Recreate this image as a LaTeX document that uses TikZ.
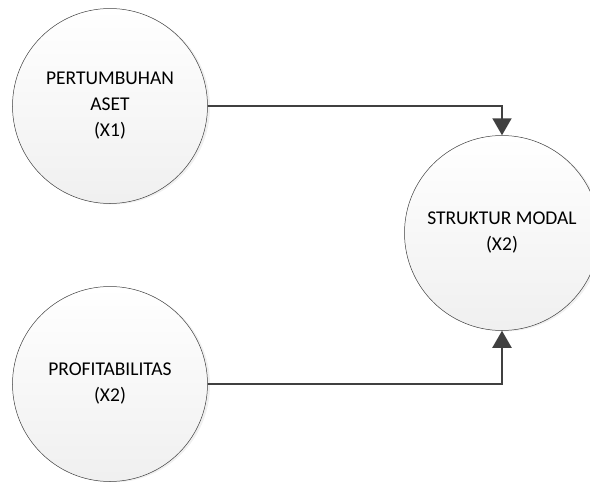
\documentclass[tikz,border=0pt]{standalone}
\usepackage{fontspec}
\setmainfont{Carlito}
\usetikzlibrary{arrows.meta,shadows}

\begin{document}
\begin{tikzpicture}[x=1pt,y=-1pt,
var/.style = {circle, draw=black!75, line width=0.5pt, minimum size=195pt, inner sep=0pt,
  top color=white, bottom color=black!6, align=center, text=black,
  font=\fontsize{19.5}{26}\selectfont,
  drop shadow={opacity=0.12, shadow xshift=2.5pt, shadow yshift=-1pt}},
link/.style = {draw=black!75, line width=2pt, -{Triangle[width=19pt,length=17pt]}}]
\useasboundingbox (0,0) rectangle (590,482);
    \node[var] (aset) at (110,106) {PERTUMBUHAN\\ASET\\(X1)};
    \node[var] (profit) at (110,384) {PROFITABILITAS\\(X2)};
    \node[var] (modal) at (502,233) {STRUKTUR MODAL\\(X2)};

    \draw[link] (aset.east) -| (modal.north);
    \draw[link] (profit.east) -| (modal.south);

\end{tikzpicture}
\end{document}
